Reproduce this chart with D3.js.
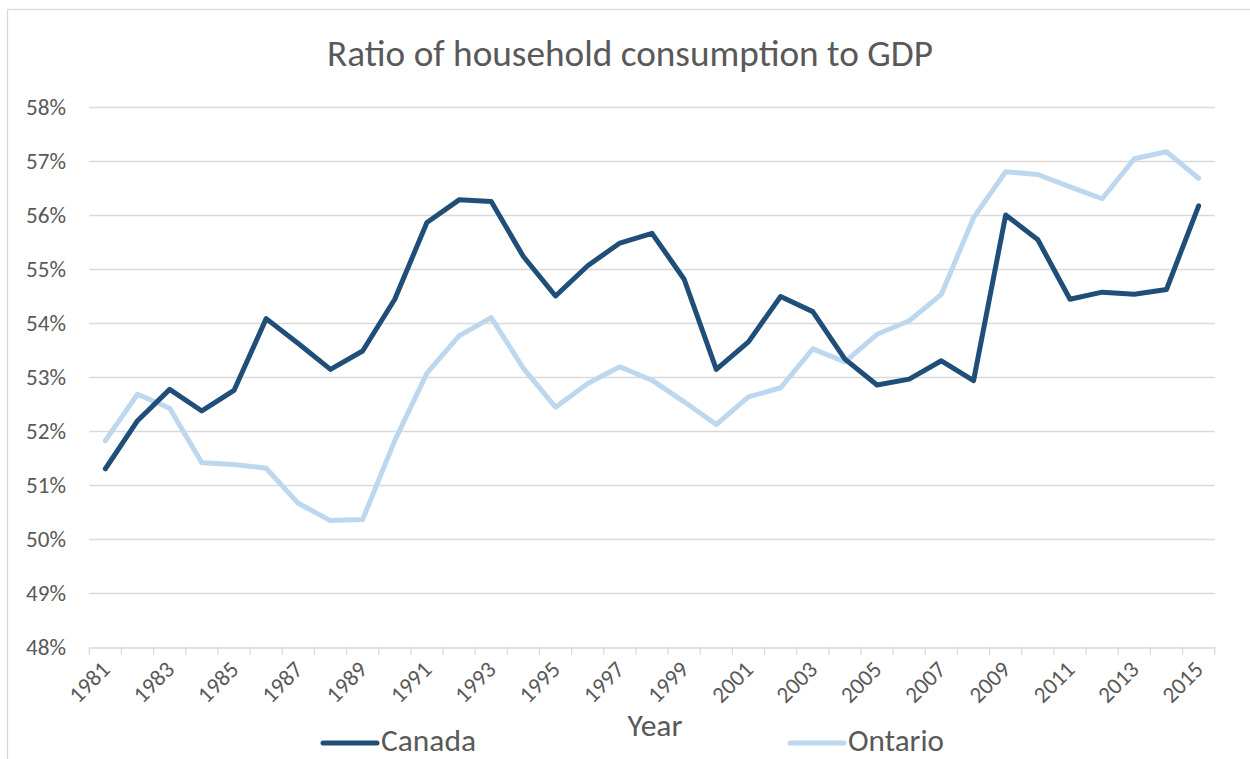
<!DOCTYPE html>
<html>
<head>
<meta charset="utf-8">
<script src="https://cdn.jsdelivr.net/npm/d3@7"></script>
<style>
  html, body { margin: 0; padding: 0; background: #ffffff; }
  svg { display: block; }
  text { font-family: Carlito, Calibri, Lato, "Open Sans", sans-serif; fill: #595959; }
</style>
</head>
<body>
<svg id="chart" width="1250" height="759"></svg>
<script>
const years = d3.range(1981, 2016);
const canada = [51.31, 52.20, 52.78, 52.38, 52.76, 54.09, 53.63, 53.15, 53.49, 54.45,
                55.87, 56.29, 56.26, 55.24, 54.51, 55.07, 55.49, 55.67, 54.82, 53.15,
                53.66, 54.50, 54.22, 53.34, 52.86, 52.97, 53.31, 52.94, 56.01, 55.55,
                54.45, 54.58, 54.54, 54.63, 56.18];
const ontario = [51.83, 52.69, 52.43, 51.42, 51.39, 51.32, 50.67, 50.35, 50.37, 51.83,
                 53.08, 53.77, 54.11, 53.17, 52.45, 52.89, 53.20, 52.95, 52.55, 52.13,
                 52.64, 52.81, 53.53, 53.29, 53.80, 54.05, 54.54, 55.96, 56.81, 56.76,
                 56.53, 56.31, 57.05, 57.18, 56.69];
const yTicks = [48, 49, 50, 51, 52, 53, 54, 55, 56, 57, 58];
const xTickLabels = years.filter((y, i) => i % 2 === 0);
const seriesNames = ["Canada", "Ontario"];
const seriesColors = ["#1F4E79", "#BDD7EE"];
const titleText = "Ratio of household consumption to GDP";
const xTitle = "Year";

const svg = d3.select("#chart");
const W = 1250, H = 759;
const plot = { left: 89.3, right: 1214.7, top: 107.5, bottom: 647.5 };

svg.append("rect").attr("x", 0).attr("y", 0).attr("width", W).attr("height", H).attr("fill", "#fff");
// chart area border
svg.append("rect").attr("x", 7.5).attr("y", 9.5).attr("width", 1400).attr("height", 900)
  .attr("fill", "none").attr("stroke", "#D9D9D9").attr("stroke-width", 1.3);

const x = d3.scaleBand().domain(years).range([plot.left, plot.right]).padding(0);
const y = d3.scaleLinear().domain([48, 58]).range([plot.bottom, plot.top]);
const xc = d => x(d) + x.bandwidth() / 2;

function fit(sel, target) {
  const w = sel.node().getComputedTextLength();
  const s = parseFloat(sel.attr("font-size"));
  sel.attr("font-size", s * target / w);
  return s * target / w;
}

// gridlines
svg.append("g").selectAll("line").data(yTicks.slice(1)).join("line")
  .attr("x1", plot.left).attr("x2", plot.right)
  .attr("y1", d => y(d)).attr("y2", d => y(d))
  .attr("stroke", "#D9D9D9").attr("stroke-width", 1.3);

// x axis
const xAxis = d3.axisBottom(x).tickSize(0).tickFormat("");
const gx = svg.append("g").attr("transform", `translate(0,${plot.bottom})`).call(xAxis);
gx.select(".domain").attr("stroke", "#D9D9D9").attr("stroke-width", 1.3);
const bounds = years.map(d => x(d)).concat([plot.right]);
gx.selectAll("line.bt").data(bounds).join("line").attr("class", "bt")
  .attr("x1", d => d).attr("x2", d => d).attr("y1", 0).attr("y2", 7)
  .attr("stroke", "#D9D9D9").attr("stroke-width", 1.3);

// y labels
const ylab = svg.append("g").selectAll("text").data(yTicks).join("text")
  .attr("x", 66).attr("y", d => y(d) + 7.5)
  .attr("text-anchor", "end").attr("font-size", 20)
  .text(d => d + "%");
const ySize = fit(d3.select(ylab.nodes()[10]), 40);
ylab.attr("font-size", ySize);

// x labels
svg.append("g").selectAll("text").data(xTickLabels).join("text")
  .attr("text-anchor", "end").attr("font-size", ySize)
  .attr("transform", d => `translate(${xc(d) + 6},${671}) rotate(-45)`)
  .text(d => d);

// lines
const line = d3.line().x((d, i) => xc(years[i])).y(d => y(d));
svg.append("path").datum(ontario).attr("d", line)
  .attr("fill", "none").attr("stroke", seriesColors[1]).attr("stroke-width", 5)
  .attr("stroke-linejoin", "round").attr("stroke-linecap", "round");
svg.append("path").datum(canada).attr("d", line)
  .attr("fill", "none").attr("stroke", seriesColors[0]).attr("stroke-width", 5)
  .attr("stroke-linejoin", "round").attr("stroke-linecap", "round");

// title
const t = svg.append("text").attr("x", 630).attr("y", 66).attr("text-anchor", "middle")
  .attr("font-size", 30).text(titleText);
fit(t, 606);

// x title
const xt = svg.append("text").attr("x", 655).attr("y", 736).attr("text-anchor", "middle")
  .attr("font-size", 24).text(xTitle);
fit(xt, 55);

// legend
const legendX = [323, 790];
const legendTargets = [95, 96];
seriesNames.forEach((n, i) => {
  svg.append("line").attr("x1", legendX[i]).attr("x2", legendX[i] + 54)
    .attr("y1", 743).attr("y2", 743)
    .attr("stroke", seriesColors[i]).attr("stroke-width", 5).attr("stroke-linecap", "round");
  const lt = svg.append("text").attr("x", legendX[i] + 58).attr("y", 751)
    .attr("font-size", 24).text(n);
  fit(lt, legendTargets[i]);
});
</script>
</body>
</html>
